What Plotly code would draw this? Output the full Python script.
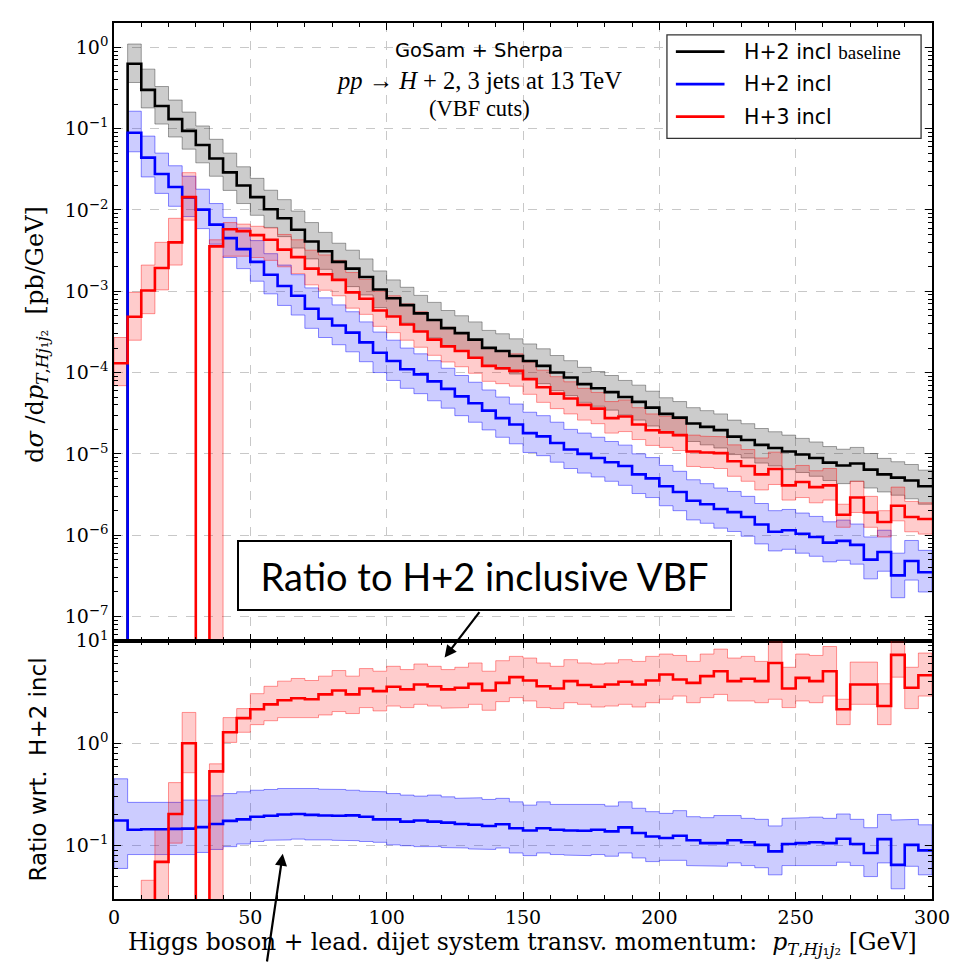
import plotly.graph_objects as go

# ---------------- data ----------------
bin_edges = list(range(0, 305, 5))  # GeV, 60 bins of 5 GeV

# H+2 incl baseline (black)
base = [0, 0.63, 0.30, 0.19, 0.131, 0.094, 0.063, 0.043, 0.029, 0.020, 0.0144, 0.0102, 0.0079, 0.0057, 0.0041,
        0.0031, 0.0023, 0.0019, 0.0015, 0.00105, 8.2e-4, 6.75e-4, 5.35e-4, 4.44e-4, 3.52e-4, 3.06e-4, 2.54e-4,
        2.01e-4, 1.84e-4, 1.6e-4, 1.39e-4, 1.21e-4, 1.0e-4, 8.7e-5, 7.2e-5, 6.4e-5, 5.75e-5, 5.0e-5, 4.36e-5,
        3.7e-5, 3.1e-5, 2.79e-5, 2.36e-5, 2.15e-5, 1.96e-5, 1.63e-5, 1.48e-5, 1.29e-5, 1.18e-5, 1.07e-5, 9.8e-6,
        8.9e-6, 7.8e-6, 7.2e-6, 7.6e-6, 6.4e-6, 5.6e-6, 5.1e-6, 4.7e-6, 4.0e-6]
base_up = [0, 1.1, 0.54, 0.33, 0.225, 0.16, 0.108, 0.074, 0.05, 0.034, 0.0245, 0.0175, 0.0134, 0.0097, 0.007,
           0.0053, 0.0039, 0.0032, 0.0025, 0.00178, 1.38e-3, 1.12e-3, 8.9e-4, 7.3e-4, 5.8e-4, 5.0e-4, 4.2e-4,
           3.3e-4, 3.0e-4, 2.6e-4, 2.25e-4, 1.96e-4, 1.62e-4, 1.4e-4, 1.16e-4, 1.03e-4, 9.2e-5, 8.0e-5, 7.0e-5,
           5.9e-5, 4.9e-5, 4.4e-5, 3.7e-5, 3.4e-5, 3.1e-5, 2.6e-5, 2.35e-5, 2.05e-5, 1.87e-5, 1.7e-5, 1.55e-5,
           1.4e-5, 1.23e-5, 1.14e-5, 1.2e-5, 1.01e-5, 8.8e-6, 8.0e-6, 7.4e-6, 6.3e-6]
base_dn = [0, 0.37, 0.18, 0.114, 0.079, 0.056, 0.038, 0.026, 0.0174, 0.012, 0.0086, 0.0061, 0.0047, 0.0034, 0.0025,
           0.00186, 0.00138, 0.00114, 9.0e-4, 6.3e-4, 4.9e-4, 4.05e-4, 3.2e-4, 2.66e-4, 2.1e-4, 1.84e-4, 1.52e-4,
           1.2e-4, 1.1e-4, 9.6e-5, 8.3e-5, 7.3e-5, 6.0e-5, 5.2e-5, 4.3e-5, 3.85e-5, 3.45e-5, 3.0e-5, 2.6e-5,
           2.2e-5, 1.86e-5, 1.67e-5, 1.42e-5, 1.29e-5, 1.18e-5, 9.8e-6, 8.9e-6, 7.7e-6, 7.1e-6, 6.4e-6, 5.9e-6,
           5.3e-6, 4.7e-6, 4.3e-6, 4.6e-6, 3.8e-6, 3.4e-6, 3.1e-6, 2.8e-6, 2.4e-6]

# H+2 incl (blue)
h2 = [0, 0.089, 0.044, 0.0277, 0.0192, 0.0143, 0.0101, 0.0066, 0.0045, 0.0033, 0.0023, 0.0016, 0.00116, 8.8e-4,
      6.1e-4, 4.6e-4, 3.8e-4, 3.1e-4, 2.35e-4, 1.75e-4, 1.39e-4, 1.1e-4, 9.5e-5, 7.8e-5, 6.3e-5, 5.1e-5, 4.2e-5,
      3.4e-5, 2.75e-5, 2.3e-5, 1.8e-5, 1.64e-5, 1.36e-5, 1.13e-5, 1.0e-5, 8.9e-6, 7.9e-6, 7.1e-6, 5.6e-6, 5.0e-6,
      4.0e-6, 3.4e-6, 2.65e-6, 2.4e-6, 2.1e-6, 1.92e-6, 1.67e-6, 1.35e-6, 1.1e-6, 1.15e-6, 1.04e-6, 9.5e-7,
      8.1e-7, 8.5e-7, 7.6e-7, 5.0e-7, 6.2e-7, 3.2e-7, 4.8e-7, 3.5e-7]
h2_up = [0, 0.164, 0.081, 0.05, 0.035, 0.026, 0.018, 0.012, 0.0081, 0.006, 0.0042, 0.0029, 0.0021, 1.6e-3, 1.1e-3,
         8.3e-4, 6.8e-4, 5.6e-4, 4.2e-4, 3.15e-4, 2.5e-4, 2.0e-4, 1.7e-4, 1.4e-4, 1.13e-4, 9.2e-5, 7.6e-5, 6.1e-5,
         5.0e-5, 4.1e-5, 3.25e-5, 2.95e-5, 2.45e-5, 2.0e-5, 1.8e-5, 1.6e-5, 1.42e-5, 1.28e-5, 1.0e-5, 9.0e-6,
         7.2e-6, 6.1e-6, 4.8e-6, 4.3e-6, 3.8e-6, 3.45e-6, 3.0e-6, 2.45e-6, 2.0e-6, 2.07e-6, 1.87e-6, 1.7e-6,
         1.46e-6, 1.53e-6, 1.37e-6, 9.5e-7, 1.15e-6, 6.0e-7, 8.6e-7, 6.5e-7]
h2_dn = [0, 0.052, 0.0255, 0.016, 0.0111, 0.0083, 0.0059, 0.0038, 0.0026, 0.0019, 0.00133, 9.3e-4, 6.7e-4, 5.1e-4,
         3.5e-4, 2.7e-4, 2.2e-4, 1.8e-4, 1.36e-4, 1.0e-4, 8.0e-5, 6.4e-5, 5.5e-5, 4.5e-5, 3.65e-5, 2.95e-5, 2.45e-5,
         1.97e-5, 1.6e-5, 1.33e-5, 1.04e-5, 9.5e-6, 7.9e-6, 6.6e-6, 5.8e-6, 5.2e-6, 4.6e-6, 4.1e-6, 3.25e-6, 2.9e-6,
         2.3e-6, 2.0e-6, 1.54e-6, 1.4e-6, 1.22e-6, 1.11e-6, 9.7e-7, 7.8e-7, 6.4e-7, 6.7e-7, 6.0e-7, 5.5e-7, 4.7e-7,
         4.9e-7, 4.4e-7, 2.9e-7, 3.6e-7, 1.7e-7, 2.8e-7, 2.0e-7]

# H+3 incl (red)
h3 = [1.3e-4, 4.85e-4, 1.02e-3, 1.93e-3, 4.0e-3, 0.0144, 0, 3.57e-3, 5.8e-3, 5.5e-3, 4.9e-3, 4.3e-3, 3.25e-3,
      2.63e-3, 1.9e-3, 1.62e-3, 1.38e-3, 9.7e-4, 8.1e-4, 5.8e-4, 4.9e-4, 3.9e-4, 3.2e-4, 2.54e-4, 2.1e-4, 1.84e-4,
      1.52e-4, 1.21e-4, 1.13e-4, 1.05e-4, 8.3e-5, 6.6e-5, 5.5e-5, 4.8e-5, 4.0e-5, 3.6e-5, 2.75e-5, 2.88e-5, 2.3e-5,
      1.95e-5, 1.84e-5, 1.7e-5, 1.07e-5, 1.04e-5, 1.02e-5, 8.1e-6, 7.1e-6, 5.6e-6, 6.5e-6, 4.1e-6, 4.5e-6, 3.9e-6,
      4.1e-6, 1.78e-6, 2.9e-6, 1.9e-6, 1.45e-6, 2.3e-6, 1.67e-6, 1.58e-6]
h3_up = [2.7e-4, 9.7e-4, 2.1e-3, 4.0e-3, 7.9e-3, 0.0288, 0, 4.3e-3, 7.0e-3, 6.7e-3, 6.3e-3, 6.0e-3, 5.0e-3, 4.3e-3,
         3.2e-3, 2.8e-3, 2.4e-3, 1.7e-3, 1.4e-3, 1.0e-3, 8.8e-4, 7.0e-4, 5.6e-4, 4.4e-4, 3.6e-4, 3.1e-4, 2.55e-4,
         2.0e-4, 1.85e-4, 1.7e-4, 1.35e-4, 1.07e-4, 8.9e-5, 7.7e-5, 6.4e-5, 5.7e-5, 4.4e-5, 4.6e-5, 3.7e-5, 3.1e-5,
         2.9e-5, 2.7e-5, 1.7e-5, 1.65e-5, 1.62e-5, 1.29e-5, 1.13e-5, 8.9e-6, 1.05e-5, 6.6e-6, 7.2e-6, 6.2e-6,
         6.6e-6, 2.4e-6, 4.6e-6, 3.0e-6, 2.0e-6, 3.9e-6, 2.6e-6, 2.5e-6]
h3_dn = [6.9e-5, 2.5e-4, 5.3e-4, 1.04e-3, 2.1e-3, 7.5e-3, 0, 0, 2.7e-3, 2.7e-3, 2.6e-3, 2.4e-3, 2.0e-3, 1.65e-3,
         1.2e-3, 1.03e-3, 8.8e-4, 6.2e-4, 5.2e-4, 3.7e-4, 3.1e-4, 2.5e-4, 2.05e-4, 1.63e-4, 1.35e-4, 1.18e-4, 9.8e-5,
         7.8e-5, 7.3e-5, 6.8e-5, 5.4e-5, 4.3e-5, 3.6e-5, 3.1e-5, 2.6e-5, 2.35e-5, 1.8e-5, 1.88e-5, 1.5e-5, 1.27e-5,
         1.2e-5, 1.1e-5, 7.0e-6, 6.8e-6, 6.6e-6, 5.3e-6, 4.6e-6, 3.6e-6, 4.2e-6, 2.7e-6, 2.9e-6, 2.5e-6, 2.7e-6,
         1.25e-6, 1.9e-6, 1.25e-6, 9.5e-7, 1.5e-6, 1.1e-6, 1.03e-6]

# Ratio panel: H+2 incl (blue)
ratio_h2 = [0.176, 0.143, 0.145, 0.145, 0.146, 0.147, 0.152, 0.163, 0.175, 0.181, 0.192, 0.196, 0.202, 0.204, 0.2,
            0.197, 0.196, 0.198, 0.192, 0.181, 0.181, 0.172, 0.176, 0.172, 0.168, 0.163, 0.16, 0.156, 0.162, 0.148,
            0.141, 0.148, 0.143, 0.141, 0.14, 0.143, 0.138, 0.151, 0.133, 0.123, 0.119, 0.125, 0.113, 0.106, 0.106,
            0.113, 0.108, 0.102, 0.088, 0.104, 0.106, 0.108, 0.106, 0.117, 0.104, 0.085, 0.116, 0.065, 0.102, 0.090]
ratio_h2_up = [0.45, 0.265, 0.265, 0.265, 0.265, 0.279, 0.279, 0.307, 0.323, 0.336, 0.348, 0.354, 0.362, 0.367,
               0.362, 0.356, 0.354, 0.348, 0.341, 0.336, 0.323, 0.312, 0.305, 0.312, 0.3, 0.29, 0.294, 0.283, 0.29,
               0.268, 0.249, 0.268, 0.253, 0.249, 0.249, 0.253, 0.244, 0.268, 0.232, 0.215, 0.207, 0.22, 0.192,
               0.188, 0.197, 0.197, 0.185, 0.181, 0.156, 0.185, 0.188, 0.19, 0.185, 0.204, 0.181, 0.15, 0.202,
               0.178, 0.181, 0.16]
ratio_h2_dn = [0.06, 0.082, 0.082, 0.082, 0.082, 0.082, 0.086, 0.092, 0.098, 0.104, 0.11, 0.113, 0.114, 0.116,
               0.114, 0.114, 0.113, 0.112, 0.11, 0.108, 0.102, 0.1, 0.098, 0.098, 0.096, 0.095, 0.093, 0.092, 0.095,
               0.085, 0.08, 0.085, 0.082, 0.081, 0.08, 0.082, 0.079, 0.085, 0.076, 0.07, 0.072, 0.072, 0.064, 0.063,
               0.063, 0.068, 0.064, 0.061, 0.052, 0.064, 0.063, 0.064, 0.064, 0.069, 0.064, 0.05, 0.068, 0.038,
               0.063, 0.052]

# Ratio panel: H+3 incl (red)
ratio_h3 = [0, 0.0054, 0.023, 0.0695, 0.204, 1.0, 0, 0.532, 1.28, 1.76, 2.15, 2.4, 2.63, 2.75, 2.69, 3.0, 3.28,
            3.0, 3.43, 3.23, 3.56, 3.36, 3.75, 3.6, 3.36, 3.48, 3.8, 3.28, 3.89, 4.42, 4.1, 3.6, 3.43, 4.04, 3.7,
            3.56, 3.75, 3.98, 3.75, 4.1, 4.69, 4.19, 3.89, 4.52, 5.05, 4.04, 4.26, 4.04, 6.08, 3.43, 4.35, 4.04,
            5.05, 2.15, 3.75, 3.75, 2.31, 7.3, 3.48, 4.62]
ratio_h3_up = [0, 0.011, 0.046, 0.145, 0.413, 2.0, 0, 0.63, 1.78, 2.18, 3.05, 3.6, 4.04, 4.29, 4.1, 4.52, 5.13,
               4.52, 5.36, 5.05, 5.64, 5.24, 5.94, 5.64, 5.24, 5.52, 6.08, 5.05, 6.4, 7.05, 6.79, 6.08, 5.64, 6.55,
               6.08, 5.94, 6.08, 6.55, 6.3, 7.05, 7.43, 7.2, 6.3, 7.43, 8.3, 6.79, 7.05, 6.3, 10.5, 5.52, 7.43, 7.2,
               8.8, 2.69, 6.2, 6.2, 3.81, 10.5, 5.52, 7.6]
ratio_h3_dn = [0, 0.003, 0.012, 0.028, 0.106, 0.516, 0, 0, 1.02, 1.28, 1.52, 1.66, 1.78, 1.81, 1.78, 1.89, 2.04,
               1.95, 2.23, 2.07, 2.31, 2.23, 2.4, 2.31, 2.2, 2.23, 2.4, 2.1, 2.55, 2.79, 2.59, 2.23, 2.18, 2.49, 2.4,
               2.26, 2.31, 2.4, 2.26, 2.49, 2.69, 2.89, 2.49, 2.79, 3.0, 2.59, 2.59, 2.49, 2.69, 2.23, 2.59, 2.49,
               2.89, 1.52, 2.4, 2.4, 1.52, 4.42, 2.18, 2.89]

x_tick_vals = [0, 50, 100, 150, 200, 250, 300]
top_decades = [-7, -6, -5, -4, -3, -2, -1, 0]
ratio_decades = [-1, 0, 1]
legend_labels = ["H+2 incl <span style='font-family:Liberation Serif;font-size:19px'>baseline</span>",
                 "H+2 incl", "H+3 incl"]

# ---------------- helpers ----------------
TOP_FLOOR = 1e-12
RAT_FLOOR = 1e-6

W, H = 960, 963
ML, MR, MT, MB = 114, 22, 10, 64
PW, PH = W - ML - MR, H - MT - MB


def px(xp):
    return (xp - ML) / PW


def py(yp):
    return (H - MB - yp) / PH


def step_line(vals, floor):
    ys = [v if v > 0 else floor for v in vals]
    return bin_edges, ys + [ys[-1]]


def band_poly(up, dn, floor):
    xs, ys = [], []
    n = len(up)
    i = 0
    while i < n:
        if up[i] <= 0:
            i += 1
            continue
        j = i
        while j + 1 < n and up[j + 1] > 0:
            j += 1
        bx, by = [], []
        for k in range(i, j + 1):
            bx += [bin_edges[k], bin_edges[k + 1]]
            by += [up[k], up[k]]
        for k in range(j, i - 1, -1):
            d = dn[k] if dn[k] > 0 else floor
            bx += [bin_edges[k + 1], bin_edges[k]]
            by += [d, d]
        bx.append(bx[0]); by.append(by[0])
        xs += bx + [None]
        ys += by + [None]
        i = j + 1
    return xs, ys


def sup(n):
    return "10<sup>" + (str(n) if n >= 0 else "\u2212" + str(-n)) + "</sup>"


BLACK = "#000000"; BLUE = "#0000ff"; RED = "#ff0000"
fills = {"k": "rgba(0,0,0,0.2)", "b": "rgba(0,0,255,0.2)", "r": "rgba(255,0,0,0.2)"}
edgec = {"k": "rgba(0,0,0,0.35)", "b": "rgba(0,0,255,0.45)", "r": "rgba(255,0,0,0.4)"}

fig = go.Figure()

for up, dn, c in [(base_up, base_dn, "k"), (h2_up, h2_dn, "b"), (h3_up, h3_dn, "r")]:
    bx, by = band_poly(up, dn, TOP_FLOOR)
    fig.add_trace(go.Scatter(x=bx, y=by, mode="lines", fill="toself", fillcolor=fills[c],
                             line=dict(color=edgec[c], width=1), showlegend=False, hoverinfo="skip",
                             xaxis="x", yaxis="y"))
for up, dn, c in [(ratio_h2_up, ratio_h2_dn, "b"), (ratio_h3_up, ratio_h3_dn, "r")]:
    bx, by = band_poly(up, dn, RAT_FLOOR)
    fig.add_trace(go.Scatter(x=bx, y=by, mode="lines", fill="toself", fillcolor=fills[c],
                             line=dict(color=edgec[c], width=1), showlegend=False, hoverinfo="skip",
                             xaxis="x2", yaxis="y2"))

series_colors = [BLACK, BLUE, RED]
for vals, col, name in zip([base, h2, h3], series_colors, legend_labels):
    sx, sy = step_line(vals, TOP_FLOOR)
    fig.add_trace(go.Scatter(x=sx, y=sy, mode="lines", line=dict(color=col, width=2.6, shape="hv"),
                             name=name, showlegend=False, xaxis="x", yaxis="y"))
for vals, col in [(ratio_h2, BLUE), (ratio_h3, RED)]:
    sx, sy = step_line(vals, RAT_FLOOR)
    fig.add_trace(go.Scatter(x=sx, y=sy, mode="lines", line=dict(color=col, width=2.6, shape="hv"),
                             showlegend=False, xaxis="x2", yaxis="y2"))

SERIF = "Liberation Serif"
SERIF_W = "DejaVu Serif"
SANS = "DejaVu Sans"
tickfont = dict(family=SERIF_W, size=19, color="black")

xcommon = dict(range=[0, 300], showline=True, linecolor="black", linewidth=1.5, mirror="allticks",
               ticks="inside", ticklen=7, tickwidth=1.3, tickcolor="black", tickmode="array",
               tickvals=x_tick_vals, showgrid=True, gridcolor="#c8c8c8", griddash="dash", gridwidth=1,
               zeroline=False, tickfont=tickfont,
               minor=dict(ticks="inside", ticklen=4, tickwidth=1, tickcolor="black", dtick=10, tick0=0,
                          showgrid=False))

top_minor = [m * 10.0 ** d for d in range(-8, 1) for m in range(2, 10)]
rat_minor = [m * 10.0 ** d for d in range(-2, 1) for m in range(2, 10)]

ycommon = dict(type="log", showline=True, linecolor="black", linewidth=1.5, mirror="allticks", ticks="inside",
               ticklen=7, tickwidth=1.3, tickcolor="black", showgrid=True, gridcolor="#c8c8c8", griddash="dash",
               gridwidth=1, zeroline=False, tickfont=tickfont, tickmode="array")

SPLIT = (H - MB - 637) / PH
fig.update_layout(
    width=W, height=H,
    margin=dict(l=ML, r=MR, t=MT, b=MB),
    paper_bgcolor="white", plot_bgcolor="white",
    xaxis=dict(domain=[0, 1], anchor="y", showticklabels=False, **xcommon),
    xaxis2=dict(domain=[0, 1], anchor="y2", matches="x", **xcommon),
    yaxis=dict(domain=[SPLIT, 1], anchor="x", range=[-7.3, 0.3],
               tickvals=[10.0 ** d for d in top_decades], ticktext=[sup(d) for d in top_decades],
               minor=dict(ticks="inside", ticklen=4, tickwidth=1, tickcolor="black", tickmode="array",
                          tickvals=top_minor, showgrid=False), **ycommon),
    yaxis2=dict(domain=[0, SPLIT], anchor="x2", range=[-1.52, 1.0],
                tickvals=[10.0 ** d for d in ratio_decades], ticktext=[sup(d) for d in ratio_decades],
                minor=dict(ticks="inside", ticklen=4, tickwidth=1, tickcolor="black", tickmode="array",
                           tickvals=rat_minor, showgrid=False), **ycommon),
    showlegend=False,
)

shapes = []
ann = []
# legend (box, line samples, labels)
shapes.append(dict(type="rect", xref="paper", yref="paper", x0=px(671), x1=px(927), y0=py(127), y1=py(22),
                   line=dict(color="#333333", width=1.3), fillcolor="white", layer="above"))
for k, (col, lab) in enumerate(zip(series_colors, legend_labels)):
    yy = py(39 + 33 * k)
    shapes.append(dict(type="line", xref="paper", yref="paper", x0=px(680), x1=px(729), y0=yy, y1=yy,
                       line=dict(color=col, width=2.6), layer="above"))
    ann.append(dict(text=lab, x=px(747), y=yy, xref="paper", yref="paper", showarrow=False, xanchor="left",
                    yanchor="middle", font=dict(family=SANS, size=20.5, color="black")))

# text block
ann.append(dict(text="GoSam + Sherpa", x=px(482), y=py(38), xref="paper", yref="paper",
                showarrow=False, font=dict(family=SANS, size=19.5, color="black"), xanchor="center",
                yanchor="middle"))
ann.append(dict(text="<i>pp</i> \u2192 <i>H</i> + 2, 3 jets at 13 TeV", x=px(482), y=py(68),
                xref="paper", yref="paper", showarrow=False, font=dict(family=SERIF, size=24.5, color="black"),
                xanchor="center", yanchor="middle"))
ann.append(dict(text="(VBF cuts)", x=px(482), y=py(97), xref="paper", yref="paper", showarrow=False,
                font=dict(family=SERIF, size=22.5, color="black"), xanchor="center", yanchor="middle"))
# axis titles
ann.append(dict(text="d<i>\u03c3</i> /d<i>p</i><sub><i>T</i>,<i>Hj</i>\u2081<i>j</i>\u2082</sub>  [pb/GeV]",
                x=px(36), y=py(326), xref="paper", yref="paper", showarrow=False,
                textangle=-90, font=dict(family=SERIF_W, size=24, color="black"), xanchor="center",
                yanchor="middle"))
ann.append(dict(text="Ratio wrt.  H+2 incl", x=px(37), y=py(768), xref="paper",
                yref="paper", showarrow=False, textangle=-90, font=dict(family=SANS, size=23, color="black"),
                xanchor="center", yanchor="middle"))
ann.append(dict(text="Higgs boson + lead. dijet system transv. momentum:  <i>p</i><sub><i>T</i>,<i>Hj</i>\u2081<i>j</i>\u2082</sub> [GeV]",
                x=px(525), y=py(944), xref="paper", yref="paper", showarrow=False,
                font=dict(family=SERIF_W, size=23.5, color="black"), xanchor="center", yanchor="middle"))
# call-out box and arrows
ann.append(dict(text="Ratio to H+2 inclusive VBF", x=px(487.5), y=py(570.5),
                xref="paper", yref="paper", showarrow=False, font=dict(family="Lato", size=38, color="black"),
                bgcolor="white", bordercolor="black", borderwidth=2, borderpad=2, width=487, height=63,
                xanchor="center", yanchor="middle"))
ann.append(dict(text="", x=px(447), y=py(654), xref="paper", yref="paper", showarrow=True,
                ax=36, ay=-47, arrowhead=2, arrowsize=1.1, arrowwidth=2.2, arrowcolor="black"))
ann.append(dict(text="", x=px(284), y=py(853), xref="paper", yref="paper", showarrow=True,
                ax=-16, ay=110, arrowhead=2, arrowsize=1.1, arrowwidth=2.2, arrowcolor="black"))
fig.update_layout(annotations=ann, shapes=shapes)

fig.write_html("out.html", config={"displayModeBar": False},
               post_script="document.body.style.margin='0px';document.body.style.overflow='hidden';")
